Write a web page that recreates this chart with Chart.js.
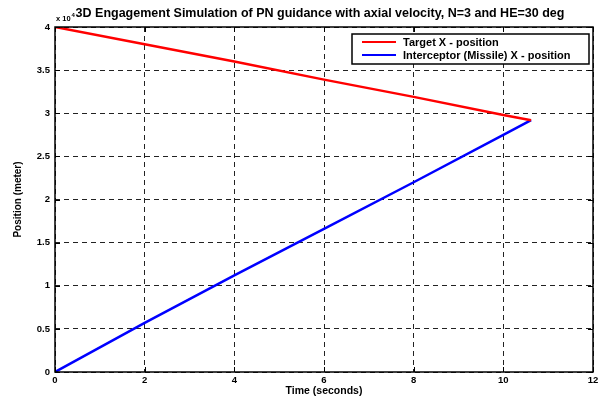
<!DOCTYPE html>
<html>
<head>
<meta charset="utf-8">
<script src="https://cdn.jsdelivr.net/npm/chart.js@4.4.1/dist/chart.umd.min.js"></script>
<style>
  html, body { margin: 0; padding: 0; background: #fff; }
  #wrap { width: 603px; height: 398px; }
</style>
</head>
<body>
<div id="wrap"><canvas id="grafico"></canvas></div>
<script>
// time in seconds, positions in units of 1e4 meters
const tempo = [0, 2, 4, 6, 8, 10, 10.62]
const alvoX = [4.0, 3.80, 3.60, 3.39, 3.19, 2.98, 2.92]
const misselX = [0, 0.57, 1.12, 1.66, 2.2, 2.75, 2.92]
const ticksX = [0, 2, 4, 6, 8, 10, 12]
const ticksY = [0, 0.5, 1, 1.5, 2, 2.5, 3, 3.5, 4]

const titulo = '3D Engagement Simulation of PN guidance with axial velocity, N=3 and HE=30 deg'
const fonte = '"Liberation Sans", Arial, sans-serif'

const pontos = (ys) => tempo.map((t, i) => ({ x: t, y: ys[i] }))

// box around the axes, inward ticks, title, x10^4 marker and legend
const molduraPlugin = {
    id: 'moldura',
    afterDraw(chart) {
        const c = chart.ctx
        const a = chart.chartArea
        const sx = chart.scales.x
        const sy = chart.scales.y
        c.save()
        c.strokeStyle = '#000'
        c.lineWidth = 1.5
        c.setLineDash([])
        c.strokeRect(a.left, a.top, a.right - a.left, a.bottom - a.top)

        c.lineWidth = 1
        c.beginPath()
        ticksX.forEach(v => {
            const px = Math.round(sx.getPixelForValue(v)) + 0.5
            c.moveTo(px, a.bottom); c.lineTo(px, a.bottom - 5)
            c.moveTo(px, a.top); c.lineTo(px, a.top + 5)
        })
        ticksY.forEach(v => {
            const py = Math.round(sy.getPixelForValue(v)) + 0.5
            c.moveTo(a.left, py); c.lineTo(a.left + 5, py)
            c.moveTo(a.right, py); c.lineTo(a.right - 5, py)
        })
        c.stroke()

        // title over the axes
        c.fillStyle = '#000'
        c.textAlign = 'center'
        c.textBaseline = 'middle'
        c.font = 'bold 12.5px ' + fonte
        c.fillText(titulo, (a.left + a.right) / 2 - 4, 14)

        // exponent of the y axis
        c.textBaseline = 'alphabetic'
        c.textAlign = 'left'
        c.font = 'bold 7.5px ' + fonte
        const base = 'x 10'
        c.fillText(base, a.left + 1, a.top - 6)
        const wb = c.measureText(base).width
        c.font = 'bold 6px ' + fonte
        c.fillText('4', a.left + 2 + wb, a.top - 10)

        // legend
        const lx = 352, ly = 34, lw = a.right - 4 - lx, lh = 30
        c.fillStyle = '#fff'
        c.fillRect(lx, ly, lw, lh)
        c.strokeStyle = '#000'
        c.lineWidth = 1.5
        c.strokeRect(lx, ly, lw, lh)
        c.font = 'bold 11px ' + fonte
        c.textBaseline = 'middle'
        chart.data.datasets.forEach((ds, i) => {
            const y = ly + 8 + i * 13
            c.strokeStyle = ds.borderColor
            c.lineWidth = 2
            c.beginPath()
            c.moveTo(lx + 10, y); c.lineTo(lx + 44, y)
            c.stroke()
            c.fillStyle = '#000'
            c.fillText(ds.label, lx + 51, y + 1)
        })
        c.restore()
    }
}

new Chart(document.getElementById('grafico'), {
    type: 'line',
    data: {
        datasets: [
            {
                label: 'Target X - position',
                data: pontos(alvoX),
                borderColor: '#ff0000',
                borderWidth: 2.5,
                pointRadius: 0,
                tension: 0
            },
            {
                label: 'Interceptor (Missile) X - position',
                data: pontos(misselX),
                borderColor: '#0000ff',
                borderWidth: 2.5,
                pointRadius: 0,
                tension: 0
            }
        ]
    },
    options: {
        responsive: true,
        maintainAspectRatio: false,
        animation: false,
        layout: { padding: { top: 27, right: 10, left: 0, bottom: 0 } },
        plugins: {
            legend: { display: false },
            tooltip: { enabled: false },
            title: { display: false }
        },
        scales: {
            x: {
                type: 'linear',
                min: 0,
                max: 12,
                afterBuildTicks: (s) => { s.ticks = ticksX.map(v => ({ value: v })) },
                afterFit: (s) => { s.height = 26 },
                grid: { color: '#222', lineWidth: 1, drawTicks: false },
                border: { display: false, dash: [5, 4] },
                ticks: {
                    color: '#000', padding: 3,
                    callback: (v) => String(v),
                    font: { family: fonte, size: 9.5, weight: 'bold' }
                },
                title: {
                    display: true,
                    text: 'Time (seconds)',
                    color: '#000',
                    padding: { top: 0, bottom: 1 },
                    font: { family: fonte, size: 10.5, weight: 'bold' }
                }
            },
            y: {
                type: 'linear',
                min: 0,
                max: 4,
                afterBuildTicks: (s) => { s.ticks = ticksY.map(v => ({ value: v })) },
                afterFit: (s) => { s.width = 55 },
                grid: { color: '#222', lineWidth: 1, drawTicks: false },
                border: { display: false, dash: [5, 4] },
                ticks: {
                    color: '#000', padding: 5,
                    callback: (v) => String(v),
                    font: { family: fonte, size: 9.5, weight: 'bold' }
                },
                title: {
                    display: true,
                    text: 'Position (meter)',
                    color: '#000',
                    padding: { top: 12, bottom: 0 },
                    font: { family: fonte, size: 10, weight: 'bold' }
                }
            }
        }
    },
    plugins: [molduraPlugin]
});
</script>
</body>
</html>
